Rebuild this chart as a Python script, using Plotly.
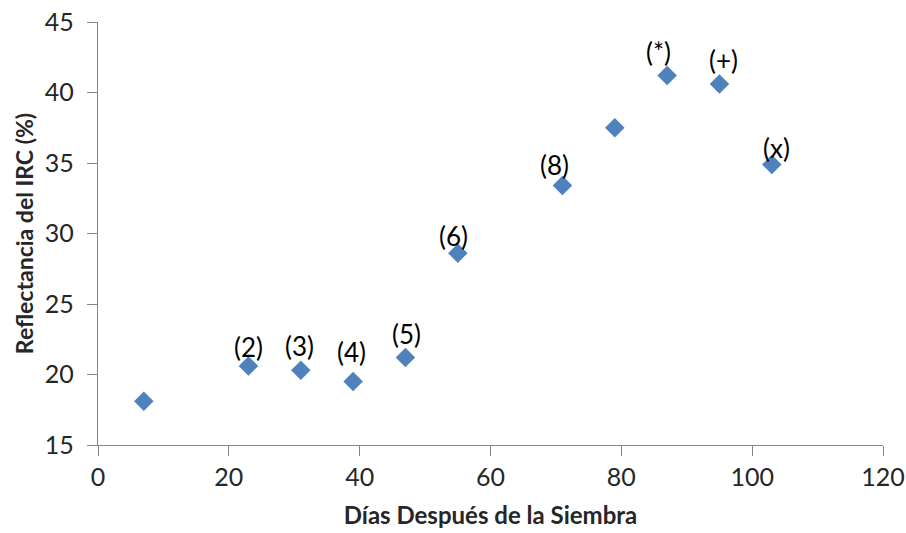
import plotly.graph_objects as go

dias = [7, 23, 31, 39, 47, 55, 71, 79, 87, 95, 103]
reflectancia = [18.1, 20.6, 20.3, 19.5, 21.2, 28.6, 33.4, 37.5, 41.2, 40.6, 34.9]
etiquetas = ["", "(2)", "(3)", "(4)", "(5)", "(6)", "(8)", "", "(*)", "(+)", "(x)"]
# label pixel offsets (dx, dy) relative to each point
label_dx = [0, 0, -1, -2, 1, -4, -8, 0, -9, 4, 5]
label_dy = [0, 19, 24, 30, 24, 17, 21, 0, 24, 24, 16]

x_ticks = [0, 20, 40, 60, 80, 100, 120]
y_ticks = [15, 20, 25, 30, 35, 40, 45]

FONT = "Lato, Carlito, sans-serif"

fig = go.Figure()
fig.add_trace(go.Scatter(
    x=dias, y=reflectancia, mode="markers",
    marker=dict(symbol="diamond", size=15, color="#4F81BD", line=dict(width=0)),
    showlegend=False, hoverinfo="x+y",
))

for xv, yv, t, dx, dy in zip(dias, reflectancia, etiquetas, label_dx, label_dy):
    if t:
        fig.add_annotation(x=xv, y=yv, text=t, showarrow=False,
                           xshift=dx, yshift=dy,
                           font=dict(family=FONT, size=26, color="#000000"))

axis_common = dict(showgrid=False, zeroline=False, showline=True, linecolor="#868686",
                   linewidth=1.3, ticks="outside", ticklen=10, tickcolor="#868686",
                   tickwidth=1.3, automargin=False, ticklabeloverflow="allow",
                   tickfont=dict(family=FONT, size=25, color="#262626"))

fig.update_xaxes(range=[0, 120], tickvals=x_ticks, **axis_common,
                 title=dict(text="<b>Días Después de la Siembra</b>", standoff=17,
                            font=dict(family=FONT, size=24, color="#262626")))
fig.update_yaxes(range=[15, 45], tickvals=y_ticks, **axis_common, ticklabelstandoff=8,
                 title=dict(text="<b>Reflectancia del IRC (%)</b>", standoff=4,
                            font=dict(family=FONT, size=23, color="#262626")))

fig.update_layout(width=906, height=533, plot_bgcolor="white", paper_bgcolor="white",
                  margin=dict(l=98, r=23, t=22, b=88))

# remove the page's default 8px body margin so the figure sits at the window origin
fig.write_html("out.html", config={"displayModeBar": False},
               post_script="document.body.style.margin='0';")
